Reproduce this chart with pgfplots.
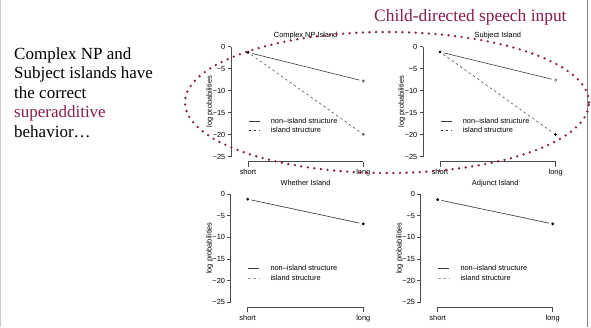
\documentclass[border=0pt]{standalone}
\usepackage{pgfplots}
\pgfplotsset{compat=1.18}
\usepackage{fontspec}
\setmainfont{Liberation Serif}
\newfontfamily\plotfont{Liberation Sans}
\definecolor{maroon}{RGB}{135,28,78}
\definecolor{linegray}{RGB}{60,60,60}
\newcommand{\pf}{\plotfont\fontsize{7.4}{8.6}\selectfont}

\tikzset{
  rtitle/.style={font=\pf, anchor=center, inner sep=0pt, yshift=10.7pt},
  rylab/.style={font=\pf, anchor=center, inner sep=0pt, rotate=90},
  nonisl/.style={linegray, line width=0.6pt, shorten <=4pt, shorten >=4pt},
  isl/.style={linegray, line width=0.5pt, dash pattern=on 2.6pt off 2.6pt, shorten <=4pt, shorten >=4pt},
}
\pgfplotsset{
  rplot/.style={
    scale only axis,
    xmin=1, xmax=2, ymin=-25, ymax=0,
    axis lines=left,
    axis line style={-, line width=0.5pt, color=black!70},
    axis x line shift=5pt, axis y line shift=17pt,
    xtick={1,2}, xticklabels={short,long},
    ytick={-25,-20,-15,-10,-5,0},
    yticklabels={−25,−20,−15,−10,−5,0},
    tick style={black!70, line width=0.5pt},
    tick align=outside, 
    xtick style={/pgfplots/major tick length=5pt},
    ytick style={/pgfplots/major tick length=3.5pt},
    tick label style={font=\pf},
    yticklabel style={inner xsep=1.2pt},
    clip=false,
    legend style={draw=none, fill=none, inner sep=0pt, font=\pf, anchor=north west,
      row sep=1.4pt, yshift=-1.5pt, nodes={inner xsep=0pt, inner ysep=0.6pt}},
    legend cell align=left,
    legend image code/.code={\draw[#1, mark=none, shorten <=0pt, shorten >=0pt] (0pt,0pt) -- (11pt,0pt); \path (22pt,0pt);},
  },
}

\begin{document}
\begin{tikzpicture}[x=1pt,y=1pt]
\path[use as bounding box, fill=white] (0,0) rectangle (591,327);
\draw[black!20, line width=0.8pt] (0.6,0) -- (0.6,327);
\draw[black!50, line width=1.2pt] (587.3,0) -- (587.3,327);

% header and side text
\node[anchor=base east, text=maroon, font=\fontsize{17.4}{20}\selectfont, inner sep=0pt] at (566.7,305.3) {Child-directed speech input};
\begin{scope}[every node/.style={anchor=base west, inner sep=0pt, font=\fontsize{17}{19.5}\selectfont}]
\node at (14,267.7) {Complex NP and};
\node at (14,248.2) {Subject islands have};
\node at (14,228.7) {the correct};
\node[text=maroon] at (14,209.2) {superadditive};
\node at (14,189.7) {behavior\ldots};
\end{scope}

% Complex NP Island
\begin{axis}[rplot, at={(248pt,170.3pt)}, anchor=south west, width=115.3pt, height=110pt,
  legend style={at={(axis cs:1,-15.6)}}]
\addplot[nonisl] coordinates {(1,-1.3) (2,-7.8)};
\addplot[isl] coordinates {(1,-1.3) (2,-19.9)};
\legend{non{\textendash}island structure, island structure}
\addplot[only marks, mark=*, mark size=1.2pt, black, forget plot] coordinates {(1,-1.3)};
\addplot[only marks, mark=*, mark size=1.3pt, black!55, forget plot] coordinates {(2,-7.8) (2,-19.9)};
\node[rtitle] at (axis description cs:0.5,1) {Complex NP Island};
\node[rylab] at ([xshift=-38pt]axis description cs:0,0.5) {log probabilities};
\end{axis}

% Subject Island
\begin{axis}[rplot, at={(440pt,170.3pt)}, anchor=south west, width=115.7pt, height=110pt,
  legend style={at={(axis cs:1,-15.6)}}]
\addplot[nonisl] coordinates {(1,-1.2) (2,-7.6)};
\addplot[isl] coordinates {(1,-1.2) (2,-20.0)};
\legend{non{\textendash}island structure, island structure}
\addplot[only marks, mark=*, mark size=1.2pt, black, forget plot] coordinates {(1,-1.2)};
\addplot[only marks, mark=o, mark size=1.2pt, black!70, forget plot] coordinates {(2,-7.6)};
\addplot[only marks, mark=+, mark size=1.7pt, black, line width=0.5pt, forget plot] coordinates {(2,-20.0)};
\node[rtitle] at (axis description cs:0.5,1) {Subject Island};
\node[rylab] at ([xshift=-38pt]axis description cs:0,0.5) {log probabilities};
\end{axis}

% Whether Island
\begin{axis}[rplot, at={(247.7pt,24.7pt)}, anchor=south west, width=115.6pt, height=108.3pt,
  legend style={at={(axis cs:1,-15.9)}}]
\addplot[isl, black!35, forget plot] coordinates {(1,-1.2) (2,-6.9)};
\addplot[nonisl] coordinates {(1,-1.2) (2,-6.9)};
\addlegendimage{isl, black!35}
\legend{non{\textendash}island structure, island structure}
\addplot[only marks, mark=*, mark size=1.2pt, black, forget plot] coordinates {(1,-1.2) (2,-6.9)};
\node[rtitle] at (axis description cs:0.5,1) {Whether Island};
\node[rylab] at ([xshift=-38pt]axis description cs:0,0.5) {log probabilities};
\end{axis}

% Adjunct Island
\begin{axis}[rplot, at={(437.7pt,24.7pt)}, anchor=south west, width=115pt, height=108.3pt,
  legend style={at={(axis cs:1,-15.9)}}]
\addplot[isl, black!35, forget plot] coordinates {(1,-1.3) (2,-6.9)};
\addplot[nonisl] coordinates {(1,-1.3) (2,-6.9)};
\addlegendimage{isl, black!35}
\legend{non{\textendash}island structure, island structure}
\addplot[only marks, mark=*, mark size=1.2pt, black, forget plot] coordinates {(1,-1.3) (2,-6.9)};
\node[rtitle] at (axis description cs:0.5,1) {Adjunct Island};
\node[rylab] at ([xshift=-38pt]axis description cs:0,0.5) {log probabilities};
\end{axis}

% ellipse highlight
\draw[maroon, line width=2.6pt, line cap=round, dash pattern=on 0pt off 6.6pt] (387,224.5) ellipse [x radius=202, y radius=70.5];
\end{tikzpicture}
\end{document}
